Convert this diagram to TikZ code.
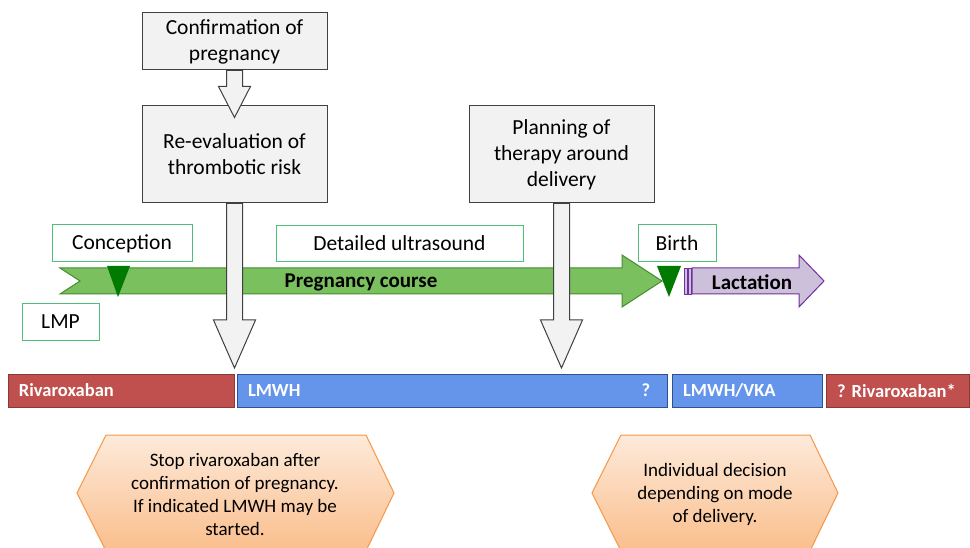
\documentclass[tikz,border=0pt]{standalone}
\usepackage{fontspec}
\setmainfont{Carlito}
\usepackage{tikz}
\usetikzlibrary{positioning, calc}
\usepackage{xcolor}

\definecolor{boxgray}{RGB}{242,242,242}
\definecolor{edgegray}{RGB}{64,64,64}
\definecolor{labelgreen}{RGB}{80,190,120}
\definecolor{bandgreen}{RGB}{122,192,94}
\definecolor{banddark}{RGB}{70,140,50}
\definecolor{markgreen}{RGB}{0,122,0}
\definecolor{lacfill}{RGB}{204,192,218}
\definecolor{lacedge}{RGB}{112,48,160}
\definecolor{rivared}{RGB}{192,80,77}
\definecolor{rivaedge}{RGB}{140,56,54}
\definecolor{lmwhblue}{RGB}{100,149,234}
\definecolor{lmwhedge}{RGB}{47,82,143}
\definecolor{hextop}{RGB}{253,234,218}
\definecolor{hexbot}{RGB}{250,190,140}
\definecolor{hexedge}{RGB}{247,150,70}

% block arrow: from node, tip, head length, head half width
\newcommand{\blockarrow}[4]{%
  \draw[blockarr] let \p1=(#1.south), \p2=(#2) in
    (\x1-8,\y1) -- (\x1+8,\y1) -- (\x1+8,\y2+#3) -- (\x1+#4,\y2+#3)
    -- (\x1,\y2) -- (\x1-#4,\y2+#3) -- (\x1-8,\y2+#3) -- cycle;}

\begin{document}
\begin{tikzpicture}[x=1pt, y=-1pt,
  font=\fontsize{21.5}{26}\selectfont,
  graybox/.style={draw=edgegray, fill=boxgray, line width=1pt, minimum width=185pt, align=center, inner sep=0pt},
  greenlabel/.style={draw=labelgreen, fill=white, line width=1pt, minimum height=37pt, inner sep=0pt},
  blockarr/.style={draw=edgegray, fill=boxgray, line width=1pt},
  bandtext/.style={font=\fontsize{21}{25}\selectfont\bfseries},
  barbox/.style={minimum height=33pt, text=white, font=\fontsize{18.5}{22}\selectfont\bfseries, inner xsep=11pt, inner ysep=0pt, align=left, line width=1pt},
  hexbox/.style={draw=hexedge, line width=1pt, top color=hextop, bottom color=hexbot},
  hextext/.style={align=center, font=\fontsize{19}{23}\selectfont}]
  \useasboundingbox (0,0) rectangle (970,548);

  \node[graybox, minimum height=57pt] (confirm) at (234.5,41.5) {Confirmation of\\pregnancy};
  \node[graybox, minimum height=97pt] (reeval) at (234.5,154.5) {Re-evaluation of\\thrombotic risk};
  \node[graybox, minimum height=97pt] (planning) at (561.5,154.5) {Planning of\\therapy around\\delivery};

  \node[greenlabel, minimum width=140pt] (conception) at (122,243.5) {Conception};
  \node[greenlabel, minimum width=77pt] (lmp) at (60.5,322) {LMP};
  \node[greenlabel, minimum width=247pt, minimum height=36pt] (ultrasound) at (399.5,243.5) {Detailed ultrasound};
  \node[greenlabel, minimum width=78pt] (birth) at (677,243.5) {Birth};

  % pregnancy and lactation
  \draw[fill=bandgreen, draw=banddark, line width=1pt] (60,268) -- (80,281) -- (60,294) -- (622,294)
    -- (622,307) -- (662,281) -- (622,255) -- (622,268) -- cycle;
  \node[bandtext] (course) at (361,282) {Pregnancy course};
  \fill[markgreen] (107,266) -- (130,266) -- (118,297) -- cycle;
  \fill[markgreen] (657,266) -- (681,266) -- (669,297) -- cycle;
  \draw[fill=lacfill, draw=lacedge] (684,268) rectangle (687,294);
  \draw[fill=lacfill, draw=lacedge] (688,268) rectangle (691,294);
  \draw[fill=lacfill, draw=lacedge, line width=1pt] (692,268) -- (799,268) -- (799,255) -- (824,281)
    -- (799,307) -- (799,294) -- (692,294) -- cycle;
  \node[bandtext] (lactation) at (752,282) {Lactation};

  % therapy bars
  \foreach \name/\cx/\w/\fc/\dc/\txt [evaluate=\w as \tw using \w-22] in
    {riva/121/226/rivared/rivaedge/Rivaroxaban,
     lmwh/452/430/lmwhblue/lmwhedge/LMWH,
     vka/747/150/lmwhblue/lmwhedge/{LMWH/VKA},
     rivalate/897.5/143/rivared/rivaedge/{?\ Rivaroxaban*}} {
    \node[barbox, fill=\fc, draw=\dc, text width=\tw pt] (\name) at (\cx,390.5) {\mbox{\txt}};
  }
  \node[barbox, inner xsep=0pt] (lmwhq) at (646,390.5) {?};

  \coordinate (reevalin) at ($(reeval.north)+(0,12)$);
  \coordinate (switchpt) at (234.5,368);
  \coordinate (deliverypt) at (561.5,368);
  \blockarrow{confirm}{reevalin}{31}{16}
  \blockarrow{reeval}{switchpt}{48}{21}
  \blockarrow{planning}{deliverypt}{48}{21}

  % notes
  \draw[hexbox] (106,435) -- (366,435) -- (394,493) -- (366,551) -- (106,551) -- (77,493) -- cycle;
  \node[hextext] (stopnote) at (235,494.5) {Stop rivaroxaban after\\confirmation of pregnancy.\\If indicated LMWH may be\\started.};
  \draw[hexbox] (621,435) -- (810,435) -- (838,493) -- (810,551) -- (621,551) -- (592,493) -- cycle;
  \node[hextext] (deliverynote) at (715,494) {Individual decision\\depending on mode\\of delivery.};
\end{tikzpicture}
\end{document}
